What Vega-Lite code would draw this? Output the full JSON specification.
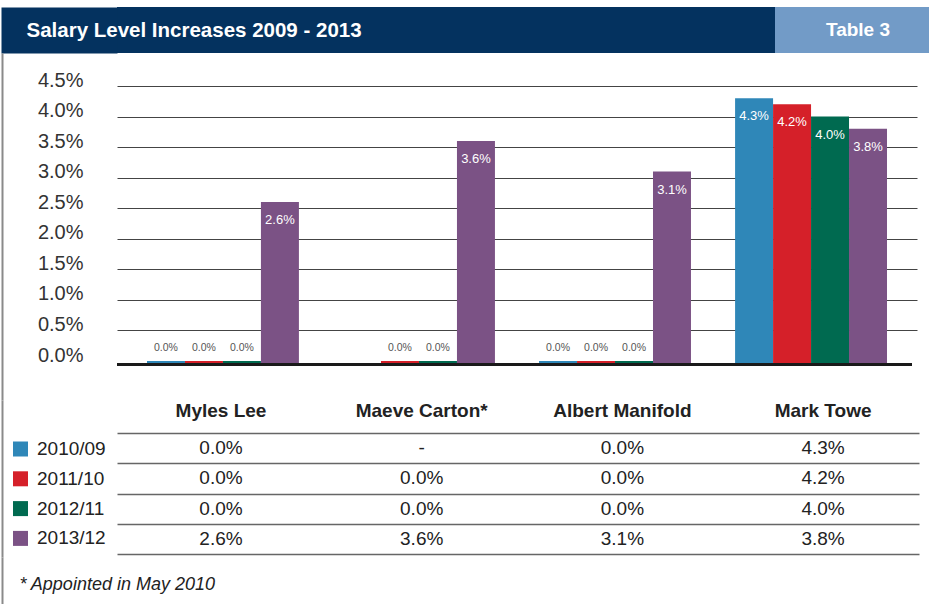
{
  "$schema": "https://vega.github.io/schema/vega-lite/v6.json",
  "padding": {"left": 2, "top": 7, "right": 0, "bottom": 0},
  "background": "white",
  "spacing": 0,
  "config": {
    "font": "Liberation Sans",
    "view": {"stroke": null},
    "axis": {"labelFont": "Liberation Sans", "titleFont": "Liberation Sans"},
    "legend": {"labelFont": "Liberation Sans"},
    "title": {"font": "Liberation Sans"}
  },
  "data": {
    "values": [
      {"name": "Myles Lee", "period": "2010/09", "value": 0.0},
      {"name": "Myles Lee", "period": "2011/10", "value": 0.0},
      {"name": "Myles Lee", "period": "2012/11", "value": 0.0},
      {"name": "Myles Lee", "period": "2013/12", "value": 0.026},
      {"name": "Maeve Carton*", "period": "2010/09", "value": null},
      {"name": "Maeve Carton*", "period": "2011/10", "value": 0.0},
      {"name": "Maeve Carton*", "period": "2012/11", "value": 0.0},
      {"name": "Maeve Carton*", "period": "2013/12", "value": 0.036},
      {"name": "Albert Manifold", "period": "2010/09", "value": 0.0},
      {"name": "Albert Manifold", "period": "2011/10", "value": 0.0},
      {"name": "Albert Manifold", "period": "2012/11", "value": 0.0},
      {"name": "Albert Manifold", "period": "2013/12", "value": 0.031},
      {"name": "Mark Towe", "period": "2010/09", "value": 0.043},
      {"name": "Mark Towe", "period": "2011/10", "value": 0.042},
      {"name": "Mark Towe", "period": "2012/11", "value": 0.040},
      {"name": "Mark Towe", "period": "2013/12", "value": 0.038}
    ]
  },
  "vconcat": [
    {
      "spacing": 0,
      "hconcat": [
        {
          "width": 658,
          "height": 46,
          "data": {"values": [{"label": "Salary Level Increases 2009 - 2013"}]},
          "mark": {"type": "rect", "color": "#04325f"},
          "encoding": {
            "y": {
              "field": "label", "type": "nominal", "scale": {"paddingInner": 0, "paddingOuter": 0},
              "axis": {
                "orient": "left", "offset": 58, "zindex": 1,
                "title": "Salary Level Increases 2009 - 2013",
                "titleAngle": 0, "titleAlign": "left", "titleBaseline": "middle",
                "titleX": -33, "titleY": 23, "titleColor": "white", "titleFontSize": 20.5,
                "titleFontWeight": "bold", "titleLimit": 0,
                "domain": true, "domainColor": "#04325f", "domainWidth": 116, "domainCap": "butt",
                "ticks": false, "labels": false
              }
            }
          }
        },
        {
          "width": 154,
          "height": 46,
          "data": {"values": [{"label": "Table 3"}]},
          "encoding": {"y": {"field": "label", "type": "nominal", "scale": {"paddingInner": 0, "paddingOuter": 0}, "axis": null}},
          "layer": [
            {"mark": {"type": "rect", "color": "#729bc7"}},
            {
              "mark": {"type": "text", "align": "center", "baseline": "middle", "color": "white", "fontSize": 19, "fontWeight": "bold", "dx": 6},
              "encoding": {"text": {"field": "label"}}
            }
          ]
        }
      ]
    },
    {
      "width": 800,
      "height": 347,
      "layer": [
        {
          "mark": {"type": "bar", "y2Offset": 4},
          "encoding": {
            "x": {
              "field": "name", "type": "nominal",
              "sort": ["Myles Lee", "Maeve Carton*", "Albert Manifold", "Mark Towe"],
              "scale": {"type": "band", "paddingInner": 0.225, "paddingOuter": 0.153},
              "axis": null
            },
            "y": {
              "field": "value", "type": "quantitative",
              "scale": {"domain": [-0.00638, 0.0504], "nice": false, "zero": false},
              "axis": {
                "orient": "left", "offset": 115, "title": null,
                "values": [0, 0.005, 0.01, 0.015, 0.02, 0.025, 0.03, 0.035, 0.04, 0.045],
                "tickCount": 20,
                "format": ".1%",
                "labelOverlap": false,
                "domain": true, "domainColor": "#8a8a8a", "domainWidth": 2,
                "ticks": false, "labelPadding": -81, "labelFontSize": 20, "labelColor": "#333333",
                "labelOffset": -6,
                "grid": true, "gridColor": "#444444", "gridWidth": 1,
                "gridOpacity": {"condition": {"test": "datum.value === 0", "value": 0}, "value": 1}
              }
            },
            "y2": {"datum": 0},
            "xOffset": {"field": "period", "sort": ["2010/09", "2011/10", "2012/11", "2013/12"], "scale": {"paddingInner": 0}},
            "color": {
              "field": "period", "type": "nominal",
              "scale": {"domain": ["2010/09", "2011/10", "2012/11", "2013/12"], "range": ["#2f87b8", "#d52029", "#006a50", "#7b5285"]},
              "legend": {
                "orient": "none", "legendX": -106, "legendY": 432.5, "title": null,
                "symbolType": "square", "symbolSize": 225, "symbolStrokeWidth": 0,
                "labelFontSize": 19, "labelColor": "#222222", "labelOffset": 7,
                "rowPadding": 9.8, "padding": 0
              }
            }
          }
        },
        {
          "transform": [{"filter": "datum.value > 0"}],
          "mark": {"type": "text", "baseline": "middle", "dy": 18, "color": "white", "fontSize": 13},
          "encoding": {
            "x": {"field": "name", "type": "nominal", "sort": ["Myles Lee", "Maeve Carton*", "Albert Manifold", "Mark Towe"]},
            "y": {"field": "value", "type": "quantitative"},
            "xOffset": {"field": "period", "sort": ["2010/09", "2011/10", "2012/11", "2013/12"]},
            "text": {"field": "value", "type": "quantitative", "format": ".1%"}
          }
        },
        {
          "transform": [{"filter": "datum.value === 0"}],
          "mark": {"type": "text", "baseline": "middle", "dy": -13, "color": "#555555", "fontSize": 10.5},
          "encoding": {
            "x": {"field": "name", "type": "nominal", "sort": ["Myles Lee", "Maeve Carton*", "Albert Manifold", "Mark Towe"]},
            "y": {"field": "value", "type": "quantitative"},
            "xOffset": {"field": "period", "sort": ["2010/09", "2011/10", "2012/11", "2013/12"]},
            "text": {"field": "value", "type": "quantitative", "format": ".1%"}
          }
        },
        {
          "mark": {"type": "rule", "color": "#1a1a1a", "strokeWidth": 2.8, "yOffset": 3.5, "xOffset": -5},
          "encoding": {"y": {"datum": 0}}
        }
      ]
    },
    {
      "width": 802,
      "height": 157,
      "encoding": {
        "x": {
          "field": "name", "type": "nominal",
          "sort": ["Myles Lee", "Maeve Carton*", "Albert Manifold", "Mark Towe"],
          "scale": {"type": "band", "paddingInner": 0.1, "paddingOuter": 0.048, "align": 0.71},
          "axis": {
            "orient": "top", "title": null, "domain": false, "ticks": false,
            "labelPadding": -10, "labelBaseline": "middle", "labelAngle": 0,
            "labelFontSize": 19, "labelFontWeight": "bold", "labelColor": "#222222"
          }
        },
        "y": {
          "field": "period", "type": "nominal",
          "sort": ["2010/09", "2011/10", "2012/11", "2013/12"],
          "scale": {"type": "band", "paddingInner": 0, "paddingOuter": 0.608, "align": 0.91},
          "axis": {
            "orient": "left", "offset": 115, "title": null, "labels": false, "ticks": false,
            "domain": true, "domainColor": "#8a8a8a", "domainWidth": 2,
            "grid": true, "tickBand": "extent", "gridColor": "#666666", "gridWidth": 1.5
          }
        }
      },
      "layer": [
        {
          "transform": [{"filter": "datum.value != null"}],
          "mark": {"type": "text", "fontSize": 19, "color": "#222222", "baseline": "middle"},
          "encoding": {"text": {"field": "value", "type": "quantitative", "format": ".1%"}}
        },
        {
          "transform": [{"filter": "datum.value == null"}],
          "mark": {"type": "text", "fontSize": 19, "color": "#222222", "baseline": "middle", "text": "-"}
        }
      ]
    },
    {
      "width": 802,
      "height": 47,
      "data": {"values": [{"note": "* Appointed in May 2010"}]},
      "mark": {"type": "rect", "opacity": 0},
      "encoding": {
        "y": {
          "field": "note", "type": "nominal", "scale": {"paddingInner": 0, "paddingOuter": 0},
          "axis": {
            "orient": "left", "offset": 115, "title": null,
            "domain": true, "domainColor": "#8a8a8a", "domainWidth": 2,
            "ticks": false, "labelAlign": "left", "labelBaseline": "middle", "labelPadding": -17,
            "labelOffset": 4, "labelFontSize": 18, "labelFontStyle": "italic", "labelColor": "#222222", "labelLimit": 0
          }
        }
      }
    }
  ]
}
